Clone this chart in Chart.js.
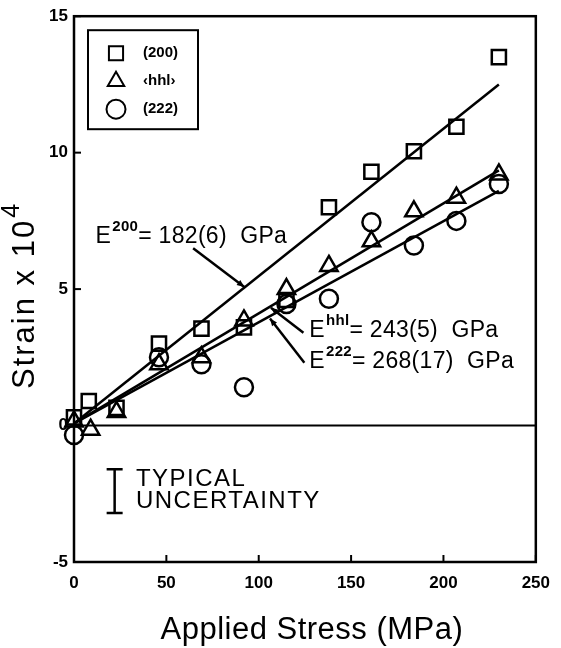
<!DOCTYPE html>
<html>
<head>
<meta charset="utf-8">
<script src="https://cdn.jsdelivr.net/npm/chart.js@4/dist/chart.umd.min.js"></script>
<style>
  html, body { margin: 0; padding: 0; background: #fff; }
</style>
</head>
<body>
<canvas id="chart" width="561" height="648"></canvas>
<script>
// --- DATA ---
const sq200X  = [0, 8, 23, 46, 69, 92, 115, 138, 161, 184, 207, 230];
const sq200Y  = [0.3, 0.9, 0.65, 3.0, 3.55, 3.6, 4.6, 8.0, 9.3, 10.05, 10.95, 13.5];
const triHhlX = [0, 9, 23, 46, 69, 92, 115, 138, 161, 184, 207, 230];
const triHhlY = [0.15, -0.15, 0.5, 2.25, 2.5, 3.85, 5.0, 5.85, 6.75, 7.85, 8.35, 9.2];
const cir222X = [0, 46, 69, 92, 115, 138, 161, 184, 207, 230];
const cir222Y = [-0.35, 2.5, 2.25, 1.4, 4.45, 4.65, 7.45, 6.6, 7.5, 8.85];

// least squares fit lines
const fitX    = [0.5, 230];
const fit200  = [0.1, 12.5];
const fitHhl  = [0.1, 9.35];
const fit222  = [0.1, 8.6];

const seriesNames = ["(200)", "\u2039hhl\u203a", "(222)"];
const xTicks = [0, 50, 100, 150, 200, 250];
const yTicks = [-5, 0, 5, 10, 15];

const FONT = '"Liberation Sans", Arial, Helvetica, sans-serif';
const INK = "#000";

function pts(xs, ys){ return xs.map((x,i) => ({x, y: ys[i]})); }

// helper: text with a superscript part
function supText(ctx, x, y, base, sup, rest, size){
  ctx.letterSpacing = "0.3px";
  ctx.font = `${size}px ${FONT}`;
  ctx.fillText(base, x, y);
  let w = ctx.measureText(base).width;
  ctx.font = `bold ${Math.round(size*0.66)}px ${FONT}`;
  ctx.fillText(sup, x + w + 1, y - size*0.52);
  w += ctx.measureText(sup).width + 1;
  ctx.font = `${size}px ${FONT}`;
  ctx.fillText(rest, x + w, y);
  ctx.letterSpacing = "0px";
}

function arrow(ctx, x1, y1, x2, y2){
  ctx.beginPath();
  ctx.moveTo(x1, y1); ctx.lineTo(x2, y2);
  ctx.stroke();
  const a = Math.atan2(y2 - y1, x2 - x1), L = 8;
  ctx.beginPath();
  ctx.moveTo(x2, y2);
  ctx.lineTo(x2 - L*Math.cos(a - 0.4), y2 - L*Math.sin(a - 0.4));
  ctx.lineTo(x2 - L*Math.cos(a + 0.4), y2 - L*Math.sin(a + 0.4));
  ctx.closePath();
  ctx.fill();
}

// frame, ticks, zero line, legend, notes
const decor = {
  id: "decor",
  beforeDatasetsDraw(chart){
    const {ctx, chartArea: a, scales: {y}} = chart;
    ctx.save();
    ctx.strokeStyle = INK; ctx.lineWidth = 2;
    const y0 = y.getPixelForValue(0);
    ctx.beginPath(); ctx.moveTo(a.left, y0); ctx.lineTo(a.right, y0); ctx.stroke();
    ctx.restore();
  },
  afterDatasetsDraw(chart){
    const {ctx, chartArea: a, scales: {x, y}} = chart;
    ctx.save();
    ctx.strokeStyle = INK; ctx.fillStyle = INK;
    // frame
    ctx.lineWidth = 2.5;
    ctx.strokeRect(a.left, a.top, a.right - a.left, a.bottom - a.top);
    // inward ticks
    ctx.lineWidth = 2;
    xTicks.forEach(v => {
      const px = x.getPixelForValue(v);
      ctx.beginPath(); ctx.moveTo(px, a.bottom); ctx.lineTo(px, a.bottom - 7); ctx.stroke();
    });
    yTicks.forEach(v => {
      const py = y.getPixelForValue(v);
      ctx.beginPath(); ctx.moveTo(a.left, py); ctx.lineTo(a.left + 7, py); ctx.stroke();
    });

    // legend box
    const lx = a.left + 14, ly = a.top + 14, lw = 110, lh = 99;
    ctx.lineWidth = 2;
    ctx.strokeRect(lx, ly, lw, lh);
    const styles = ["rect", "triangle", "circle"];
    ctx.textBaseline = "middle";
    ctx.font = `bold 15px ${FONT}`;
    seriesNames.forEach((name, i) => {
      const cy = ly + 23 + i*28;
      ctx.fillStyle = "rgba(0,0,0,0)";
      Chart.helpers.drawPoint(ctx, {pointStyle: styles[i], radius: i === 0 ? 10 : 9.5, borderWidth: 2.5}, lx + 28, cy);
      ctx.fillStyle = INK;
      ctx.fillText(name, lx + 55, cy);
    });

    // modulus notes and arrows
    ctx.textBaseline = "alphabetic";
    ctx.lineWidth = 2.5;
    const P = (vx, vy) => [x.getPixelForValue(vx), y.getPixelForValue(vy)];
    let p = P(11.7, 6.68);
    supText(ctx, p[0], p[1], "E", "200", "= 182(6)  GPa", 23);
    arrow(ctx, ...P(64.5, 6.5), ...P(92.2, 5.08));
    p = P(127.4, 3.25);
    supText(ctx, p[0], p[1], "E", "hhl", "= 243(5)  GPa", 23);
    arrow(ctx, ...P(124.2, 3.4), ...P(106.6, 4.32));
    p = P(127.4, 2.1);
    supText(ctx, p[0], p[1], "E", "222", "= 268(17)  GPa", 23);
    arrow(ctx, ...P(124.7, 2.3), ...P(106.1, 3.92));

    // typical uncertainty bar
    const bx = x.getPixelForValue(22), bt = y.getPixelForValue(-1.6), bb = y.getPixelForValue(-3.2);
    ctx.lineWidth = 2.5;
    ctx.beginPath();
    ctx.moveTo(bx, bt); ctx.lineTo(bx, bb);
    ctx.moveTo(bx - 8, bt); ctx.lineTo(bx + 8, bt);
    ctx.moveTo(bx - 8, bb); ctx.lineTo(bx + 8, bb);
    ctx.stroke();
    ctx.textBaseline = "middle";
    ctx.font = `24px ${FONT}`;
    ctx.letterSpacing = "1.5px";
    p = P(33.5, -1.99); ctx.fillText("TYPICAL", p[0], p[1]);
    p = P(33.5, -2.79); ctx.fillText("UNCERTAINTY", p[0], p[1]);

    // axis titles
    ctx.textAlign = "center";
    ctx.letterSpacing = "0.5px";
    ctx.font = `31px ${FONT}`;
    ctx.fillText("Applied Stress (MPa)", (a.left + a.right)/2 + 7, 630);
    ctx.translate(25, 296);
    ctx.rotate(-Math.PI/2);
    ctx.letterSpacing = "2px";
    ctx.font = `31px ${FONT}`;
    const base = "Strain x 10";
    const wb = ctx.measureText(base).width;
    ctx.font = `25px ${FONT}`;
    const ws = ctx.measureText("4").width;
    ctx.textAlign = "left";
    ctx.font = `31px ${FONT}`;
    ctx.fillText(base, -(wb + ws)/2, 0);
    ctx.font = `25px ${FONT}`;
    ctx.fillText("4", -(wb + ws)/2 + wb + 1, -13);
    ctx.restore();
  }
};

const markerSet = (label, data, style, r) => ({
  label, data, type: "scatter",
  pointStyle: style, pointRadius: r, pointHoverRadius: r,
  pointBorderWidth: 2.5, borderColor: INK, backgroundColor: "rgba(0,0,0,0)",
  showLine: false, clip: false
});
const fitSet = (data) => ({
  data: pts(fitX, data), type: "line",
  borderColor: INK, borderWidth: 2.5, pointRadius: 0, fill: false
});

new Chart(document.getElementById("chart"), {
  type: "scatter",
  data: {
    datasets: [
      fitSet(fit200), fitSet(fitHhl), fitSet(fit222),
      markerSet(seriesNames[0], pts(sq200X, sq200Y), "rect", 10),
      markerSet(seriesNames[1], pts(triHhlX, triHhlY), "triangle", 10),
      markerSet(seriesNames[2], pts(cir222X, cir222Y), "circle", 9)
    ]
  },
  options: {
    responsive: false,
    animation: false,
    devicePixelRatio: 1,
    layout: { padding: { top: 13, right: 18, left: 0, bottom: 0 } },
    plugins: { legend: { display: false }, tooltip: { enabled: false } },
    scales: {
      x: {
        type: "linear", min: 0, max: 250,
        afterBuildTicks: s => { s.ticks = xTicks.map(v => ({value: v})); },
        afterFit: s => { s.height = 86; },
        grid: { display: false, drawTicks: false },
        border: { display: false },
        ticks: { color: INK, padding: 11, maxRotation: 0, font: { family: FONT, size: 17, weight: "bold" } }
      },
      y: {
        type: "linear", min: -5, max: 15,
        afterBuildTicks: s => { s.ticks = yTicks.map(v => ({value: v})); },
        afterFit: s => { s.width = 74; },
        grid: { display: false, drawTicks: false },
        border: { display: false },
        ticks: { color: INK, padding: 6, font: { family: FONT, size: 17, weight: "bold" } }
      }
    }
  },
  plugins: [decor]
});
</script>
</body>
</html>
